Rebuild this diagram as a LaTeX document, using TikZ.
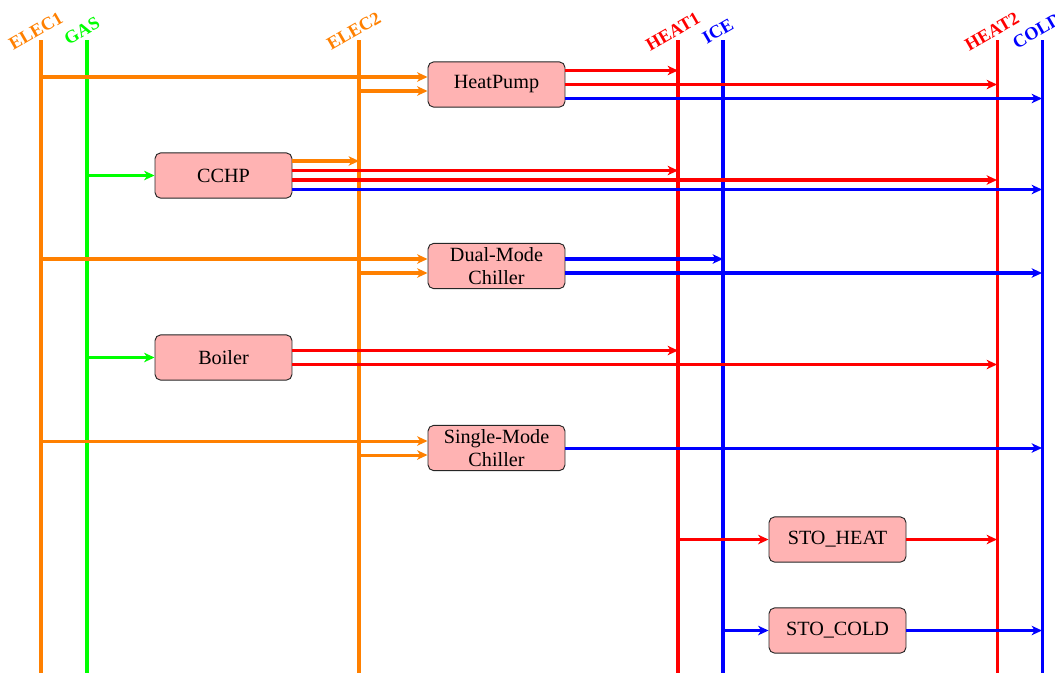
\documentclass[tikz,border=0pt]{standalone}
\usepackage{fontspec}
\setmainfont{Liberation Serif}[Scale=1.07]
\usetikzlibrary{arrows.meta,calc}
\definecolor{corange}{RGB}{255,128,0}
\definecolor{cgreen}{RGB}{0,255,0}
\definecolor{cred}{RGB}{255,0,0}
\definecolor{cblue}{RGB}{0,0,255}
\definecolor{boxfill}{RGB}{255,179,179}
\tikzset{
  bus/.style={line width=1.6pt},
  flow/.style={line width=1.6pt,-{Stealth[length=5.5pt,width=5pt,inset=1.6pt]}},
  unit/.style={draw=black!85, line width=0.5pt, fill=boxfill, rounded corners=3pt,
    minimum width=72.6pt, minimum height=24pt, align=center, inner sep=2pt},
  buslabel/.style={rotate=30, anchor=south, font=\small\bfseries, inner sep=2pt}
}
\begin{document}
\begin{tikzpicture}[x=0.53pt,y=-0.53pt]
\useasboundingbox (0,0) rectangle (1055,673);
% bus coordinates
\coordinate (e1t) at (41,40);   \coordinate (e1b) at (41,673);
\coordinate (gt)  at (87,40);   \coordinate (gb)  at (87,673);
\coordinate (e2t) at (359,40);  \coordinate (e2b) at (359,673);
\coordinate (h1t) at (678,40);  \coordinate (h1b) at (678,673);
\coordinate (it)  at (723,40);  \coordinate (ib)  at (723,673);
\coordinate (h2t) at (997,40);  \coordinate (h2b) at (997,673);
\coordinate (ct)  at (1042,40); \coordinate (cb)  at (1042,673);
% buses
\draw[bus,corange] (e1t) -- (e1b);
\draw[bus,cgreen]  (gt) -- (gb);
\draw[bus,corange] (e2t) -- (e2b);
\draw[bus,cred]    (h1t) -- (h1b);
\draw[bus,cblue]   (it) -- (ib);
\draw[bus,cred]    (h2t) -- (h2b);
\draw[bus,cblue]   (ct) -- (cb);
% bus labels
\node[buslabel,text=corange] (le1) at (e1t) {ELEC1};
\node[buslabel,text=cgreen]  (lg)  at (gt)  {GAS};
\node[buslabel,text=corange] (le2) at (e2t) {ELEC2};
\node[buslabel,text=cred]    (lh1) at (h1t) {HEAT1};
\node[buslabel,text=cblue]   (li)  at (it)  {ICE};
\node[buslabel,text=cred]    (lh2) at (h2t) {HEAT2};
\node[buslabel,text=cblue]   (lc)  at (ct)  {COLD};
% units
\node[unit] (hp)  at (496.5,84.5) {HeatPump};
\node[unit] (cc)  at (223.5,175.5) {CCHP};
\node[unit] (dm)  at (496.5,266) {Dual-Mode\\Chiller};
\node[unit] (bo)  at (223.5,357.5) {Boiler};
\node[unit] (sm)  at (496.5,448) {Single-Mode\\Chiller};
\node[unit] (sh)  at (837.5,539.5) {STO\_HEAT};
\node[unit] (sc)  at (837.5,630.5) {STO\_COLD};
% HeatPump
\coordinate (hpi1) at ($(hp.west)+(0,-7.5)$);
\coordinate (hpi2) at ($(hp.west)+(0,6.5)$);
\draw[flow,corange] (hpi1 -| e1t) -- (hpi1);
\draw[flow,corange] (hpi2 -| e2t) -- (hpi2);
\coordinate (hpo1) at ($(hp.east)+(0,-14)$);
\coordinate (hpo2) at ($(hp.east)+(0,0)$);
\coordinate (hpo3) at ($(hp.east)+(0,14)$);
\draw[flow,cred]  (hpo1) -- (hpo1 -| h1t);
\draw[flow,cred]  (hpo2) -- (hpo2 -| h2t);
\draw[flow,cblue] (hpo3) -- (hpo3 -| ct);
% CCHP
\draw[flow,cgreen] (cc.west -| gt) -- (cc.west);
\coordinate (cco1) at ($(cc.east)+(0,-14.5)$);
\coordinate (cco2) at ($(cc.east)+(0,-5)$);
\coordinate (cco3) at ($(cc.east)+(0,4.5)$);
\coordinate (cco4) at ($(cc.east)+(0,14)$);
\draw[flow,corange] (cco1) -- (cco1 -| e2t);
\draw[flow,cred]    (cco2) -- (cco2 -| h1t);
\draw[flow,cred]    (cco3) -- (cco3 -| h2t);
\draw[flow,cblue]   (cco4) -- (cco4 -| ct);
% Dual-Mode Chiller
\coordinate (dmi1) at ($(dm.west)+(0,-7)$);
\coordinate (dmi2) at ($(dm.west)+(0,7)$);
\draw[flow,corange] (dmi1 -| e1t) -- (dmi1);
\draw[flow,corange] (dmi2 -| e2t) -- (dmi2);
\coordinate (dmo1) at ($(dm.east)+(0,-7)$);
\coordinate (dmo2) at ($(dm.east)+(0,7)$);
\draw[flow,cblue] (dmo1) -- (dmo1 -| it);
\draw[flow,cblue] (dmo2) -- (dmo2 -| ct);
% Boiler
\draw[flow,cgreen] (bo.west -| gt) -- (bo.west);
\coordinate (boo1) at ($(bo.east)+(0,-7)$);
\coordinate (boo2) at ($(bo.east)+(0,7)$);
\draw[flow,cred] (boo1) -- (boo1 -| h1t);
\draw[flow,cred] (boo2) -- (boo2 -| h2t);
% Single-Mode Chiller
\coordinate (smi1) at ($(sm.west)+(0,-7)$);
\coordinate (smi2) at ($(sm.west)+(0,7)$);
\draw[flow,corange] (smi1 -| e1t) -- (smi1);
\draw[flow,corange] (smi2 -| e2t) -- (smi2);
\draw[flow,cblue] (sm.east) -- (sm.east -| ct);
% Storage
\draw[flow,cred] (sh.west -| h1t) -- (sh.west);
\draw[flow,cred] (sh.east) -- (sh.east -| h2t);
\draw[flow,cblue] (sc.west -| it) -- (sc.west);
\draw[flow,cblue] (sc.east) -- (sc.east -| ct);
\end{tikzpicture}
\end{document}
